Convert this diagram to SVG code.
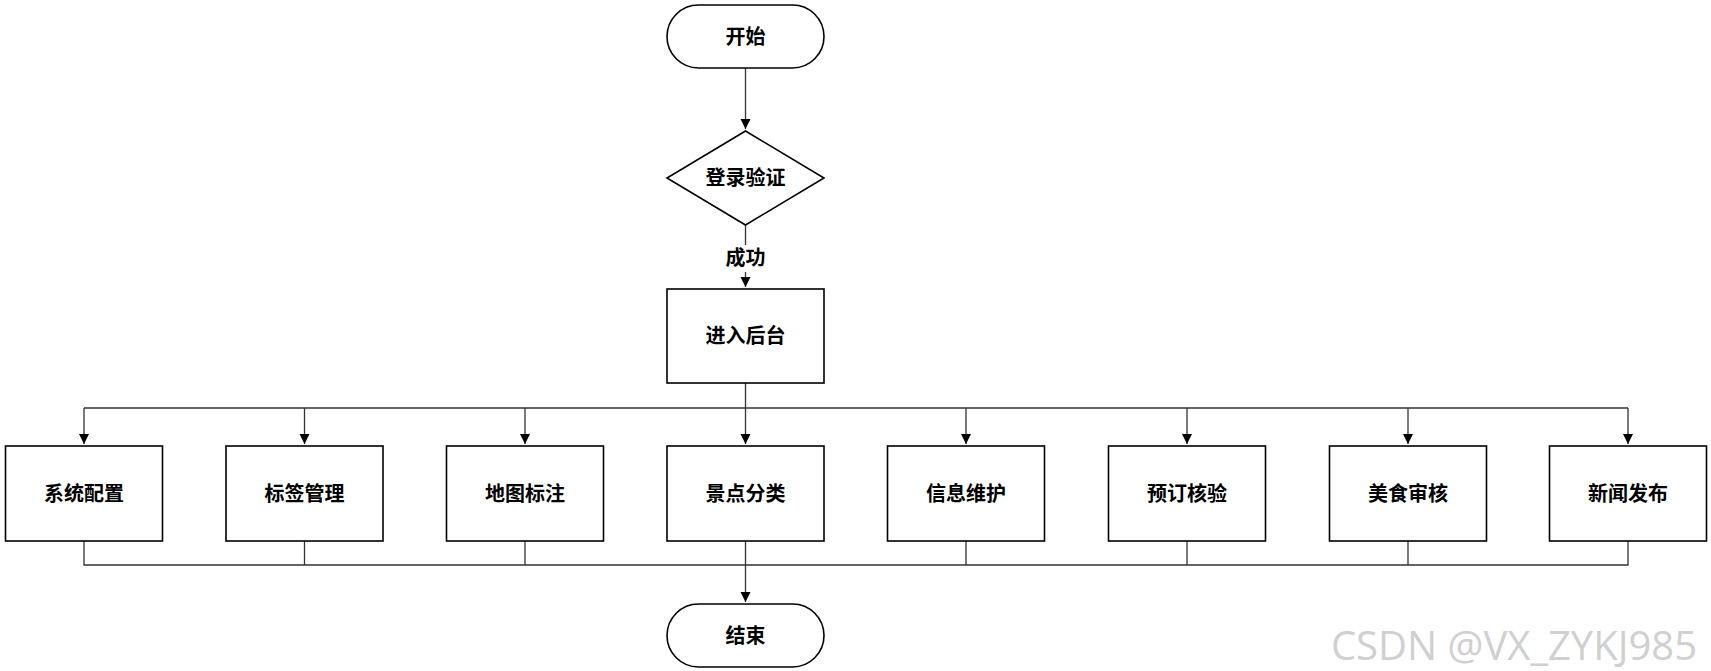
<svg xmlns="http://www.w3.org/2000/svg" width="1711" height="671" viewBox="0 0 1711 671">
<style>
.n{fill:#fff;stroke:#000;stroke-width:1.6}
.t{font-family:"Liberation Serif","Noto Sans CJK SC",serif;font-weight:bold;font-size:20px;text-anchor:middle;dominant-baseline:central;fill:#000}
.c{fill:none;stroke:#333;stroke-width:1.3}
</style>
<defs><marker id="a" markerWidth="12" markerHeight="12" refX="10" refY="5" orient="auto" markerUnits="userSpaceOnUse"><path d="M0,0L10,5L0,10Z" fill="#000"/></marker></defs>
<rect width="1711" height="671" fill="#fff"/>
<g id="connectors">
<path class="c" d="M745.5,68V129" marker-end="url(#a)"/>
<path class="c" d="M745.5,225V245M745.5,272V287" marker-end="url(#a)"/>
<path class="c" d="M745.5,383V408M84,408H1628"/>
<path class="c" d="M84,408V444" marker-end="url(#a)"/>
<path class="c" d="M304.5,408V444" marker-end="url(#a)"/>
<path class="c" d="M525,408V444" marker-end="url(#a)"/>
<path class="c" d="M745.5,408V444" marker-end="url(#a)"/>
<path class="c" d="M966,408V444" marker-end="url(#a)"/>
<path class="c" d="M1187,408V444" marker-end="url(#a)"/>
<path class="c" d="M1408,408V444" marker-end="url(#a)"/>
<path class="c" d="M1628,408V444" marker-end="url(#a)"/>
<path class="c" d="M84,541V565H1628V541M304.5,541V565M525,541V565M966,541V565M1187,541V565M1408,541V565M745.5,541V565"/>
<path class="c" d="M745.5,565V602" marker-end="url(#a)"/>
<text class="t" x="745.5" y="258">成功</text>
</g>
<g id="start"><rect class="n" x="667" y="5" width="157" height="63" rx="31.5"/><text class="t" x="745.5" y="36.5">开始</text></g>
<g id="login"><path class="n" d="M745.5,131L824,178L745.5,225L667,178Z"/><text class="t" x="745.5" y="178">登录验证</text></g>
<g id="backend"><rect class="n" x="667" y="289" width="157" height="94"/><text class="t" x="745.5" y="336">进入后台</text></g>
<g id="n1"><rect class="n" x="5.5" y="446" width="157" height="95"/><text class="t" x="84" y="493.5">系统配置</text></g>
<g id="n2"><rect class="n" x="226" y="446" width="157" height="95"/><text class="t" x="304.5" y="493.5">标签管理</text></g>
<g id="n3"><rect class="n" x="446.5" y="446" width="157" height="95"/><text class="t" x="525" y="493.5">地图标注</text></g>
<g id="n4"><rect class="n" x="667" y="446" width="157" height="95"/><text class="t" x="745.5" y="493.5">景点分类</text></g>
<g id="n5"><rect class="n" x="887.5" y="446" width="157" height="95"/><text class="t" x="966" y="493.5">信息维护</text></g>
<g id="n6"><rect class="n" x="1108.5" y="446" width="157" height="95"/><text class="t" x="1187" y="493.5">预订核验</text></g>
<g id="n7"><rect class="n" x="1329.5" y="446" width="157" height="95"/><text class="t" x="1408" y="493.5">美食审核</text></g>
<g id="n8"><rect class="n" x="1549.5" y="446" width="157" height="95"/><text class="t" x="1628" y="493.5">新闻发布</text></g>
<g id="end"><rect class="n" x="667" y="604" width="157" height="63" rx="31.5"/><text class="t" x="745.5" y="635.5">结束</text></g>
<text x="1697" y="660" font-family="'Open Sans','Noto Sans',sans-serif" font-size="40" fill="#d0d0d0" text-anchor="end">CSDN @VX_ZYKJ985</text>
</svg>
